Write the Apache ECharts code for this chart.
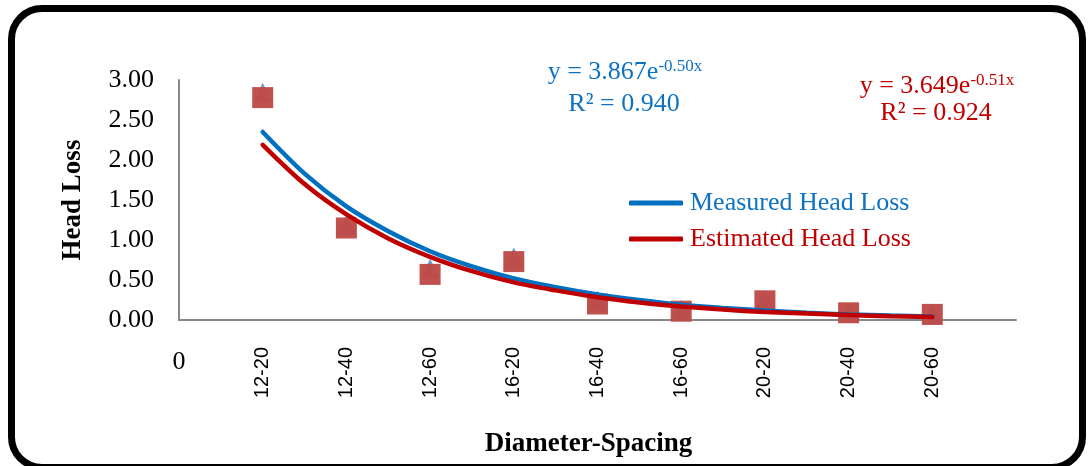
<!DOCTYPE html>
<html>
<head>
<meta charset="utf-8">
<script src="https://cdn.jsdelivr.net/npm/echarts@6/dist/echarts.min.js"></script>
<style>
html,body{margin:0;padding:0;background:#fff;}
#chart{position:absolute;left:0;top:0;width:1089px;height:466px;}
#frame{position:absolute;left:8px;top:5px;width:1078px;height:466px;box-sizing:border-box;border:7px solid #000;border-radius:34px;pointer-events:none;}
</style>
</head>
<body>
<div id="chart"></div>
<div id="frame"></div>
<script>
// Categories (Diameter-Spacing), placed at x = 1..9
const categories = ['12-20','12-40','12-60','16-20','16-40','16-60','20-20','20-40','20-60'];
// Marker values
const measured  = [2.84, 1.19, 0.64, 0.78, 0.24, 0.13, 0.25, 0.10, 0.07];
const estimated = [2.78, 1.15, 0.57, 0.73, 0.20, 0.11, 0.24, 0.09, 0.07];
// Trend line positions (x) and values
const trendX = [1, 1.5, 2, 2.5, 3, 3.5, 4, 4.5, 5, 5.5, 6, 6.5, 7, 7.5, 8, 8.5, 9];
const measuredTrend  = [2.35, 1.83, 1.42, 1.11, 0.86, 0.67, 0.52, 0.41, 0.32, 0.25, 0.19, 0.15, 0.12, 0.09, 0.07, 0.055, 0.043];
const estimatedTrend = [2.19, 1.70, 1.32, 1.02, 0.79, 0.61, 0.47, 0.37, 0.285, 0.22, 0.17, 0.13, 0.10, 0.08, 0.062, 0.048, 0.037];
const yTicks = [0, 0.5, 1, 1.5, 2, 2.5, 3];

const pos = categories.map((c, i) => i + 1);
const pair = (vals) => vals.map((v, i) => [pos[i], v]);
const trendPair = (vals) => vals.map((v, i) => [trendX[i], v]);

const chart = echarts.init(document.getElementById('chart'));
const serif = 'Liberation Serif';
const blueTxt = '#0E72C4', redTxt = '#C00000';

chart.setOption({
  animation: false,
  grid: {left: 179, right: 73, top: 80, bottom: 146},
  xAxis: [{
    type: 'value', min: 0, max: 10, interval: 1,
    name: 'Diameter-Spacing', nameLocation: 'middle', nameGap: 111,
    nameTextStyle: {fontFamily: serif, fontWeight: 'bold', fontSize: 27, color: '#000', padding: [0, 18, 0, 0]},
    axisLine: {show: true, lineStyle: {color: '#888', width: 2}},
    axisTick: {show: false}, splitLine: {show: false},
    axisLabel: {
      rotate: 90, margin: 27, fontFamily: 'Liberation Sans', fontSize: 20, color: '#000',
      formatter: (v) => (v >= 1 && v <= categories.length) ? categories[v - 1] : ''
    }
  }, {
    type: 'value', min: 0, max: 10, interval: 1, position: 'bottom',
    axisLine: {show: false}, axisTick: {show: false}, splitLine: {show: false},
    axisLabel: {
      margin: 29, fontFamily: serif, fontSize: 26, color: '#000',
      formatter: (v) => v === 0 ? '0' : ''
    }
  }],
  yAxis: {
    type: 'value', min: yTicks[0], max: yTicks[yTicks.length - 1], interval: 0.5,
    name: 'Head Loss', nameLocation: 'middle', nameGap: 92,
    nameTextStyle: {fontFamily: serif, fontWeight: 'bold', fontSize: 27, color: '#000'},
    axisLine: {show: true, lineStyle: {color: '#888', width: 2}},
    axisTick: {show: false}, splitLine: {show: false},
    axisLabel: {margin: 25, fontFamily: serif, fontSize: 26, color: '#000',
      formatter: (v) => v.toFixed(2)}
  },
  legend: {
    orient: 'vertical', left: 624, top: 185, itemWidth: 54, itemHeight: 5, itemGap: 10,
    icon: 'roundRect',
    textStyle: {fontFamily: serif, fontSize: 26, padding: [0, 0, 0, 2]},
    data: [
      {name: 'Measured Head Loss', textStyle: {color: blueTxt}},
      {name: 'Estimated Head Loss', textStyle: {color: redTxt}}
    ]
  },
  series: [
    {name: 'Measured', type: 'scatter', symbol: 'triangle', symbolSize: 20,
     itemStyle: {color: '#4F81BD'}, data: pair(measured), z: 2},
    {name: 'Estimated', type: 'scatter', symbol: 'rect', symbolSize: 21,
     itemStyle: {color: '#BE4B48', opacity: 0.97}, data: pair(estimated), z: 3},
    {name: 'Measured Head Loss', type: 'line', smooth: 0.3, showSymbol: false, symbol: 'none',
     lineStyle: {color: '#0070C0', width: 4.5, cap: 'round'}, itemStyle: {color: '#0070C0'},
     data: trendPair(measuredTrend), z: 4},
    {name: 'Estimated Head Loss', type: 'line', smooth: 0.3, showSymbol: false, symbol: 'none',
     lineStyle: {color: '#C00000', width: 4.5, cap: 'round'}, itemStyle: {color: '#C00000'},
     data: trendPair(estimatedTrend), z: 5}
  ],
  graphic: [
    {type: 'text', x: 625, y: 72, z: 10, style: {
      text: '{m|y = 3.867e}{s|-0.50x}', align: 'center', verticalAlign: 'middle',
      rich: {m: {fontFamily: serif, fontSize: 26, fill: blueTxt, lineHeight: 28},
             s: {fontFamily: serif, fontSize: 17, fill: blueTxt, verticalAlign: 'top', lineHeight: 17}}}},
    {type: 'text', x: 624, y: 104, z: 10, style: {
      text: 'R² = 0.940', align: 'center', verticalAlign: 'middle',
      fontFamily: serif, fontSize: 26, fill: blueTxt}},
    {type: 'text', x: 937, y: 86, z: 10, style: {
      text: '{m|y = 3.649e}{s|-0.51x}', align: 'center', verticalAlign: 'middle',
      rich: {m: {fontFamily: serif, fontSize: 26, fill: redTxt, lineHeight: 28},
             s: {fontFamily: serif, fontSize: 17, fill: redTxt, verticalAlign: 'top', lineHeight: 17}}}},
    {type: 'text', x: 936, y: 113, z: 10, style: {
      text: 'R² = 0.924', align: 'center', verticalAlign: 'middle',
      fontFamily: serif, fontSize: 26, fill: redTxt}}
  ]
});
</script>
</body>
</html>
